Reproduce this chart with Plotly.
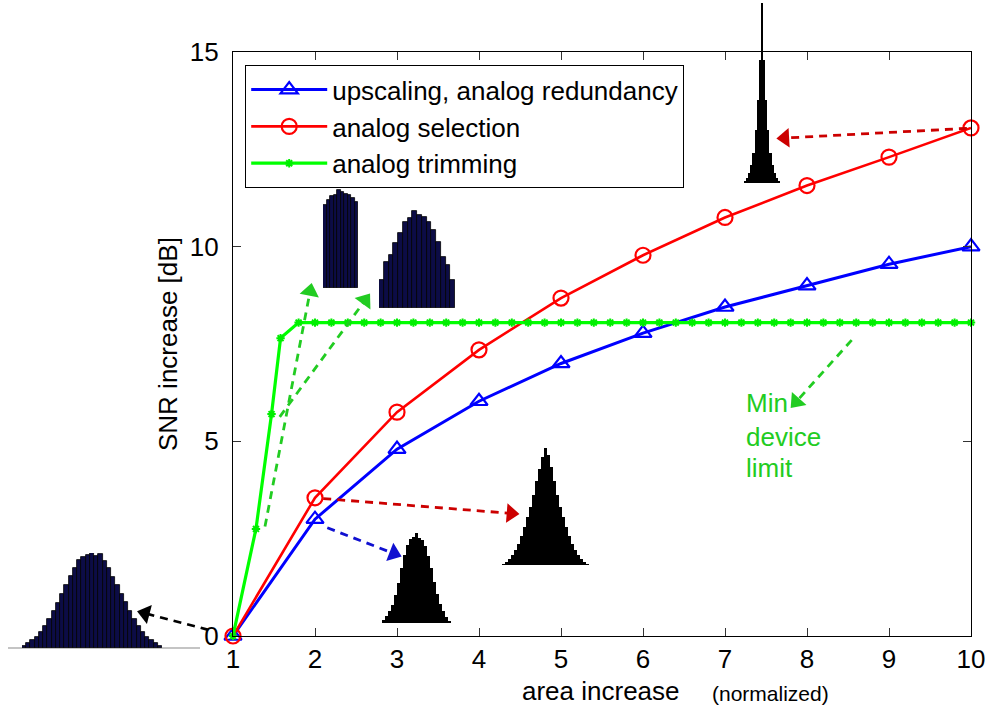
import plotly.graph_objects as go

# ---------------- data ----------------
area = [1, 2, 3, 4, 5, 6, 7, 8, 9, 10]
snr_upscaling = [0.0, 3.0, 4.8, 6.03, 7.0, 7.78, 8.45, 9.0, 9.55, 10.0]
snr_selection = [0.0, 3.55, 5.75, 7.35, 8.68, 9.78, 10.75, 11.57, 12.3, 13.05]
trim_area = [1.0, 1.28, 1.47, 1.58, 1.8, 2.0, 2.2, 2.4, 2.6, 2.8, 3.0, 3.2, 3.4, 3.6, 3.8,
             4.0, 4.2, 4.4, 4.6, 4.8, 5.0, 5.2, 5.4, 5.6, 5.8, 6.0, 6.2, 6.4, 6.6, 6.8,
             7.0, 7.2, 7.4, 7.6, 7.8, 8.0, 8.2, 8.4, 8.6, 8.8, 9.0, 9.2, 9.4, 9.6, 9.8, 10.0]
snr_trimming = [0.0, 2.75, 5.7, 7.65, 8.05, 8.05, 8.05, 8.05, 8.05, 8.05, 8.05, 8.05, 8.05,
                8.05, 8.05, 8.05, 8.05, 8.05, 8.05, 8.05, 8.05, 8.05, 8.05, 8.05, 8.05, 8.05,
                8.05, 8.05, 8.05, 8.05, 8.05, 8.05, 8.05, 8.05, 8.05, 8.05, 8.05, 8.05, 8.05,
                8.05, 8.05, 8.05, 8.05, 8.05, 8.05, 8.05]
x_ticks = [1, 2, 3, 4, 5, 6, 7, 8, 9, 10]
y_ticks = [0, 5, 10, 15]

# histogram insets (bar heights, relative units)
hist_original = [2, 5, 8, 11, 16, 22, 29, 37, 45, 54, 63, 72, 80, 88, 91, 93, 95,
                 92, 94, 87, 80, 71, 63, 54, 46, 37, 29, 22, 16, 11, 8, 5, 2]
hist_upscaled = [3, 7, 12, 18, 28, 40, 55, 68, 78, 84, 86, 90, 85, 83, 77, 67, 55,
                 41, 29, 19, 12, 6, 2]
hist_selected = [1, 3, 6, 10, 15, 21, 29, 38, 48, 58, 70, 84, 96, 108, 117, 110, 98,
                 84, 70, 58, 48, 38, 29, 21, 15, 10, 6, 3, 1]
hist_selected10 = [2, 5, 10, 18, 30, 53, 83, 123, 180, 123, 83, 53, 30, 18, 10, 5, 2]
hist_trim_a = [83, 88, 92, 93, 98, 96, 94, 93, 90, 86]
hist_trim_b = [28, 46, 53, 65, 75, 86, 90, 97, 93, 91, 86, 78, 66, 51, 43, 28]

# ---------------- geometry ----------------
W, H = 987, 710
PX_L, PX_R, PX_T, PX_B = 233, 971, 52, 636
XR = [1, 10]
YR = [0, 15]


def dom_x(a, b):
    return [a / W, b / W]


def dom_y(top, bottom):
    return [1 - bottom / H, 1 - top / H]


FONT = "Liberation Sans, Arial, sans-serif"

fig = go.Figure()

# main series
fig.add_trace(go.Scatter(
    x=area, y=snr_upscaling, mode="lines+markers", name="upscaling, analog redundancy",
    line=dict(color="#0000ff", width=3),
    marker=dict(symbol="triangle-up-open", size=15, color="#0000ff", line=dict(width=2.2)),
    cliponaxis=False))
fig.add_trace(go.Scatter(
    x=area, y=snr_selection, mode="lines+markers", name="analog selection",
    line=dict(color="#ff0000", width=2.6),
    marker=dict(symbol="circle-open", size=15, color="#ff0000", line=dict(width=2.2)),
    cliponaxis=False))
fig.add_trace(go.Scatter(
    x=trim_area, y=snr_trimming, mode="lines+markers", name="analog trimming",
    line=dict(color="#00ff00", width=3.2),
    marker=dict(symbol="asterisk-open", size=7, color="#00ee00", line=dict(width=2, color="#00dd00")),
    cliponaxis=False))

# overlay axes covering the whole page, aligned with the main data scale
sx = (XR[1] - XR[0]) / (PX_R - PX_L)
sy = (YR[1] - YR[0]) / (PX_B - PX_T)
ov_x = [XR[0] - PX_L * sx, XR[1] + (W - PX_R) * sx]
ov_y = [YR[0] - (H - PX_B) * sy, YR[1] + PX_T * sy]

# dashed arrows (start -> arrowhead centre) in main data coordinates
arrows = [
    dict(s=(0.70, 0.16), e=(-0.07, 0.58), c="#000000"),
    dict(s=(2.15, 2.78), e=(2.96, 2.12), c="#1010d0"),
    dict(s=(2.1, 3.53), e=(4.39, 3.15), c="#cc0000"),
    dict(s=(9.95, 13.04), e=(7.73, 12.79), c="#cc0000"),
    dict(s=(1.39, 2.81), e=(1.94, 8.85), c="#22cc22"),
    dict(s=(1.57, 5.63), e=(2.61, 8.62), c="#22cc22"),
    dict(s=(8.545, 7.60), e=(7.87, 6.02), c="#22cc22"),
]
for a in arrows:
    fig.add_trace(go.Scatter(
        x=[a["s"][0], a["e"][0]], y=[a["s"][1], a["e"][1]],
        xaxis="x2", yaxis="y2", mode="lines+markers", showlegend=False, hoverinfo="skip",
        line=dict(color=a["c"], width=2.8, dash="8px,6px"),
        marker=dict(symbol=["circle", "triangle-up"], size=[0, 17], color=a["c"], opacity=1,
                    angleref="previous", line=dict(width=0))))

# histogram insets
insets = [
    dict(h=hist_original, px=(22, 162, 553, 648), col="#0c0c46", lw=0.8, top=95),
    dict(h=hist_upscaled, px=(382, 451, 533, 623), col="#000000", lw=0, top=90),
    dict(h=hist_selected, px=(502, 589, 448, 565), col="#000000", lw=0, top=117),
    dict(h=hist_selected10, px=(744, 780, 3, 183), col="#000000", lw=0, top=180),
    dict(h=hist_trim_a, px=(323, 358, 188, 288), col="#0c0c46", lw=0.8, top=100),
    dict(h=hist_trim_b, px=(379, 455, 208, 308), col="#0c0c46", lw=0.8, top=100),
]
layout_axes = {}
for i, ins in enumerate(insets):
    k = i + 3
    x0, x1, y0, y1 = ins["px"]
    fig.add_trace(go.Bar(
        x=list(range(len(ins["h"]))), y=ins["h"], xaxis=f"x{k}", yaxis=f"y{k}",
        showlegend=False, hoverinfo="skip",
        marker=dict(color=ins["col"], line=dict(color="#000000", width=ins["lw"]))))
    layout_axes[f"xaxis{k}"] = dict(domain=dom_x(x0, x1), range=[-0.5, len(ins["h"]) - 0.5],
                                    visible=False, anchor=f"y{k}", fixedrange=True)
    layout_axes[f"yaxis{k}"] = dict(domain=dom_y(y0, y1), range=[0, ins["top"]],
                                    visible=False, anchor=f"x{k}", fixedrange=True)

axis_common = dict(
    showline=True, linecolor="#000000", linewidth=1.3, mirror="ticks",
    ticks="inside", ticklen=8, tickcolor="#333333", tickwidth=1.2,
    showgrid=False, zeroline=False,
    tickfont=dict(family=FONT, size=26, color="#000000"),
)


def ann(text, x, y, size=26, color="#000000", xref="paper", yref="paper", xanchor="center", **kw):
    return dict(text=text, x=x, y=y, xref=xref, yref=yref, xanchor=xanchor, yanchor="middle",
                showarrow=False, font=dict(family=FONT, size=size, color=color), **kw)


fig.update_layout(
    width=W, height=H,
    margin=dict(l=0, r=0, t=0, b=0),
    paper_bgcolor="white", plot_bgcolor="rgba(0,0,0,0)",
    bargap=0,
    xaxis=dict(domain=dom_x(PX_L, PX_R), range=XR, tickvals=x_ticks,
               ticklabelstandoff=0, automargin=False, **axis_common),
    yaxis=dict(domain=dom_y(PX_T, PX_B), range=YR, tickvals=y_ticks,
               ticklabelstandoff=8, automargin=False, **axis_common),
    xaxis2=dict(domain=[0, 1], range=ov_x, visible=False, anchor="y2", fixedrange=True),
    yaxis2=dict(domain=[0, 1], range=ov_y, visible=False, anchor="x2", fixedrange=True),
    legend=dict(x=245 / W, y=1 - 65 / H, xanchor="left", yanchor="top",
                bgcolor="white", bordercolor="#000000", borderwidth=1.2,
                font=dict(family=FONT, size=26, color="#000000"),
                itemwidth=76, tracegroupgap=0),
    showlegend=True,
    shapes=[
        dict(type="line", xref="paper", yref="paper", x0=8 / W, x1=200 / W,
             y0=1 - 648 / H, y1=1 - 648 / H, line=dict(color="#b0b0b0", width=1.5),
             layer="below"),
    ],
    annotations=[
        ann("SNR increase [dB]", 168 / W, 1 - 344 / H, textangle=-90),
        ann("area increase", 601 / W, 1 - 691 / H),
        ann("(normalized)", 770 / W, 1 - 693 / H, size=21),
        ann("Min", 7.23, 5.99, color="#22cc22", xref="x2", yref="y2", xanchor="left"),
        ann("device", 7.23, 5.11, color="#22cc22", xref="x2", yref="y2", xanchor="left"),
        ann("limit", 7.23, 4.32, color="#22cc22", xref="x2", yref="y2", xanchor="left"),
    ],
    **layout_axes,
)

fig.write_html("out.html")
